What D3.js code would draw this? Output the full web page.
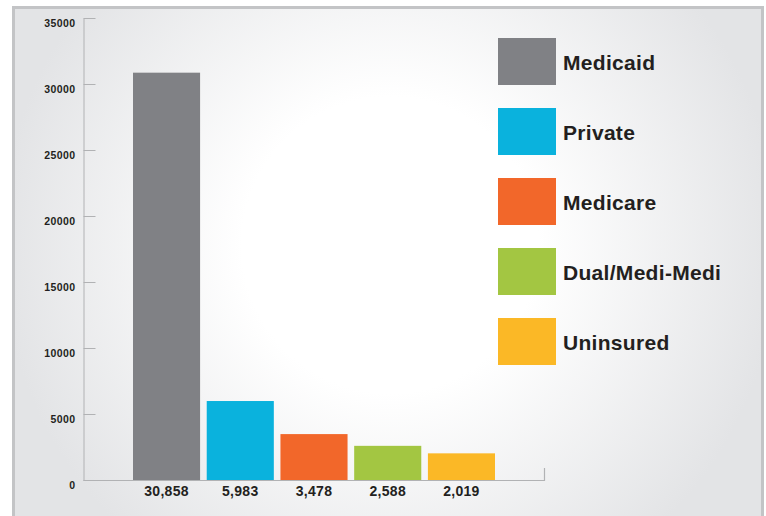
<!DOCTYPE html>
<html>
<head>
<meta charset="utf-8">
<script src="https://cdn.jsdelivr.net/npm/d3@7/dist/d3.min.js"></script>
<style>
  html, body { margin: 0; padding: 0; background: #ffffff; }
  svg { display: block; }
  text { font-family: "Liberation Sans", Arial, Helvetica, sans-serif; font-weight: bold; fill: #231f20; }
</style>
</head>
<body>
<svg id="chart" width="766" height="516"></svg>
<script>
const categories = ["Medicaid", "Private", "Medicare", "Dual/Medi-Medi", "Uninsured"];
const values = [30858, 5983, 3478, 2588, 2019];
const valueLabels = ["30,858", "5,983", "3,478", "2,588", "2,019"];
const colors = ["#808185", "#0ab2dd", "#f2672a", "#a3c642", "#fbb826"];
const yTicks = [0, 5000, 10000, 15000, 20000, 25000, 30000, 35000];

const svg = d3.select("#chart");

// background panel with radial glow
const defs = svg.append("defs");
const grad = defs.append("radialGradient")
  .attr("id", "glow").attr("gradientUnits", "userSpaceOnUse")
  .attr("cx", 390).attr("cy", 245).attr("r", 390);
grad.append("stop").attr("offset", "0").attr("stop-color", "#ffffff");
grad.append("stop").attr("offset", "0.38").attr("stop-color", "#ffffff");
grad.append("stop").attr("offset", "1").attr("stop-color", "#e3e4e6");

svg.append("rect")
  .attr("x", 13.5).attr("y", 7.5).attr("width", 749).attr("height", 530)
  .attr("fill", "url(#glow)")
  .attr("stroke", "#c3c4c6").attr("stroke-width", 3);

// scales
const y = d3.scaleLinear().domain([0, 35000]).range([480, 18]);
const x = d3.scaleBand().domain(categories).range([133, 495]).paddingInner(0.09).paddingOuter(0);
const color = d3.scaleOrdinal().domain(categories).range(colors);

// y axis
const yAxis = d3.axisLeft(y).tickValues(yTicks).tickFormat(d3.format("d"))
  .tickSizeInner(-12).tickSizeOuter(0).tickPadding(8);
const gy = svg.append("g").attr("transform", "translate(83.5,0)").call(yAxis);
gy.select(".domain").attr("stroke", "#b1b2b4");
gy.selectAll(".tick line").attr("stroke", "#b1b2b4");
gy.selectAll(".tick text")
  .attr("dy", "0.85em")
  .style("font-size", "10.5px").style("letter-spacing", "0.4px")
  .attr("fill", "#231f20");

// x axis baseline
const xEnd = 544.5;
svg.append("path")
  .attr("d", `M83.5,${y(0) + 0.5}H${xEnd}V${y(0) - 12}`)
  .attr("fill", "none").attr("stroke", "#b1b2b4").attr("stroke-width", 1.2);

// bars
svg.append("g").selectAll("rect").data(categories).join("rect")
  .attr("x", d => x(d))
  .attr("y", (d, i) => y(values[i]))
  .attr("width", x.bandwidth())
  .attr("height", (d, i) => y(0) - y(values[i]))
  .attr("fill", d => color(d));

// value labels under bars
svg.append("g").selectAll("text").data(categories).join("text")
  .attr("x", d => x(d) + x.bandwidth() / 2)
  .attr("y", y(0) + 15.5)
  .attr("text-anchor", "middle")
  .style("font-size", "14px").style("letter-spacing", "0.3px")
  .text((d, i) => valueLabels[i]);

// legend
const ly = d3.scalePoint().domain(categories).range([38, 318]);
const lg = svg.append("g").selectAll("g").data(categories).join("g")
  .attr("transform", d => `translate(498,${ly(d)})`);
lg.append("rect").attr("width", 58).attr("height", 47).attr("fill", d => color(d));
lg.append("text").attr("x", 65).attr("y", 31.5)
  .style("font-size", "21px").style("letter-spacing", "0.3px")
  .text(d => d);
</script>
</body>
</html>
